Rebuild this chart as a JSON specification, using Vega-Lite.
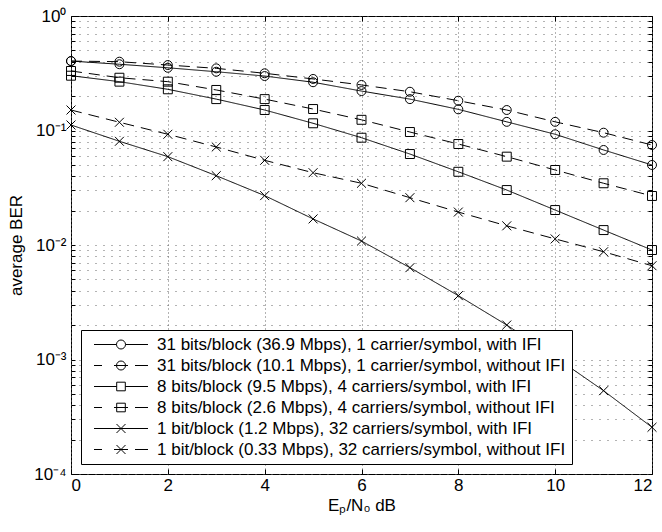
{
  "$schema": "https://vega.github.io/schema/vega-lite/v6.json",
  "width": 581,
  "height": 458,
  "autosize": {"type": "none"},
  "padding": {"left": 71, "top": 16, "right": 10, "bottom": 58},
  "background": "white",
  "config": {
    "font": "Liberation Sans",
    "view": {"stroke": "black", "strokeWidth": 1},
    "axis": {"domain": false, "labelColor": "black", "tickColor": "black", "titleColor": "black", "titleFontWeight": "normal", "labelFontSize": 17, "titleFontSize": 17}
  },
  "datasets": {
    "names": [
      {"id": "A", "series": "31 bits/block (36.9 Mbps), 1 carrier/symbol, with IFI"},
      {"id": "B", "series": "31 bits/block (10.1 Mbps), 1 carrier/symbol, without IFI"},
      {"id": "C", "series": "8 bits/block (9.5 Mbps), 4 carriers/symbol, with IFI"},
      {"id": "D", "series": "8 bits/block (2.6 Mbps), 4 carriers/symbol, without IFI"},
      {"id": "E", "series": "1 bit/block (1.2 Mbps), 32 carriers/symbol, with IFI"},
      {"id": "F", "series": "1 bit/block (0.33 Mbps), 32 carriers/symbol, without IFI"}
    ],
    "ber": [
      {"id": "A", "snr": 0, "ber": 0.404}, {"id": "A", "snr": 1, "ber": 0.379}, {"id": "A", "snr": 2, "ber": 0.353}, {"id": "A", "snr": 3, "ber": 0.326}, {"id": "A", "snr": 4, "ber": 0.299}, {"id": "A", "snr": 5, "ber": 0.264}, {"id": "A", "snr": 6, "ber": 0.221}, {"id": "A", "snr": 7, "ber": 0.188}, {"id": "A", "snr": 8, "ber": 0.153}, {"id": "A", "snr": 9, "ber": 0.119}, {"id": "A", "snr": 10, "ber": 0.0927}, {"id": "A", "snr": 11, "ber": 0.0676}, {"id": "A", "snr": 12, "ber": 0.050},
      {"id": "B", "snr": 0, "ber": 0.404}, {"id": "B", "snr": 1, "ber": 0.399}, {"id": "B", "snr": 2, "ber": 0.373}, {"id": "B", "snr": 3, "ber": 0.349}, {"id": "B", "snr": 4, "ber": 0.316}, {"id": "B", "snr": 5, "ber": 0.282}, {"id": "B", "snr": 6, "ber": 0.250}, {"id": "B", "snr": 7, "ber": 0.218}, {"id": "B", "snr": 8, "ber": 0.182}, {"id": "B", "snr": 9, "ber": 0.151}, {"id": "B", "snr": 10, "ber": 0.119}, {"id": "B", "snr": 11, "ber": 0.0957}, {"id": "B", "snr": 12, "ber": 0.0747},
      {"id": "C", "snr": 0, "ber": 0.301}, {"id": "C", "snr": 1, "ber": 0.267}, {"id": "C", "snr": 2, "ber": 0.229}, {"id": "C", "snr": 3, "ber": 0.188}, {"id": "C", "snr": 4, "ber": 0.151}, {"id": "C", "snr": 5, "ber": 0.1156}, {"id": "C", "snr": 6, "ber": 0.0865}, {"id": "C", "snr": 7, "ber": 0.0623}, {"id": "C", "snr": 8, "ber": 0.0436}, {"id": "C", "snr": 9, "ber": 0.0302}, {"id": "C", "snr": 10, "ber": 0.0202}, {"id": "C", "snr": 11, "ber": 0.0135}, {"id": "C", "snr": 12, "ber": 0.00904},
      {"id": "D", "snr": 0, "ber": 0.331}, {"id": "D", "snr": 1, "ber": 0.289}, {"id": "D", "snr": 2, "ber": 0.267}, {"id": "D", "snr": 3, "ber": 0.226}, {"id": "D", "snr": 4, "ber": 0.188}, {"id": "D", "snr": 5, "ber": 0.154}, {"id": "D", "snr": 6, "ber": 0.124}, {"id": "D", "snr": 7, "ber": 0.097}, {"id": "D", "snr": 8, "ber": 0.0762}, {"id": "D", "snr": 9, "ber": 0.0591}, {"id": "D", "snr": 10, "ber": 0.0452}, {"id": "D", "snr": 11, "ber": 0.0346}, {"id": "D", "snr": 12, "ber": 0.0268},
      {"id": "E", "snr": 0, "ber": 0.1117}, {"id": "E", "snr": 1, "ber": 0.0805}, {"id": "E", "snr": 2, "ber": 0.0591}, {"id": "E", "snr": 3, "ber": 0.0403}, {"id": "E", "snr": 4, "ber": 0.0270}, {"id": "E", "snr": 5, "ber": 0.0169}, {"id": "E", "snr": 6, "ber": 0.01083}, {"id": "E", "snr": 7, "ber": 0.00634}, {"id": "E", "snr": 8, "ber": 0.00361}, {"id": "E", "snr": 9, "ber": 0.0020}, {"id": "E", "snr": 10, "ber": 0.00105}, {"id": "E", "snr": 11, "ber": 0.000534}, {"id": "E", "snr": 12, "ber": 0.000256},
      {"id": "F", "snr": 0, "ber": 0.151}, {"id": "F", "snr": 1, "ber": 0.118}, {"id": "F", "snr": 2, "ber": 0.0927}, {"id": "F", "snr": 3, "ber": 0.0718}, {"id": "F", "snr": 4, "ber": 0.0549}, {"id": "F", "snr": 5, "ber": 0.0428}, {"id": "F", "snr": 6, "ber": 0.0346}, {"id": "F", "snr": 7, "ber": 0.0259}, {"id": "F", "snr": 8, "ber": 0.0194}, {"id": "F", "snr": 9, "ber": 0.0147}, {"id": "F", "snr": 10, "ber": 0.0113}, {"id": "F", "snr": 11, "ber": 0.00873}, {"id": "F", "snr": 12, "ber": 0.00659}
    ]
  },
  "data": {"name": "ber"},
  "transform": [
    {"lookup": "id", "from": {"data": {"name": "names"}, "key": "id", "fields": ["series"]}}
  ],
  "resolve": {"scale": {"shape": "independent"}, "legend": {"shape": "independent"}},
  "layer": [
    {
      "mark": {"type": "line", "color": "black", "strokeWidth": 1},
      "encoding": {
        "x": {"field": "snr", "type": "quantitative", "scale": {"domain": [0, 12], "nice": false, "zero": false},
          "axis": {"orient": "bottom", "values": [0, 2, 4, 6, 8, 10, 12], "title": "Eₚ/N₀ dB", "grid": true, "gridDash": [1, 3], "gridColor": "#666", "gridOpacity": 1, "tickSize": -5, "labelPadding": 8, "titlePadding": 4}},
        "y": {"field": "ber", "type": "quantitative", "scale": {"type": "log", "domain": [0.0001, 1], "nice": false},
          "axis": {"orient": "left", "title": "average BER", "grid": true, "gridDash": [1, 7], "gridColor": "#666", "gridOpacity": 1, "tickSize": -4, "labelPadding": 9, "titlePadding": 8, "labelOverlap": false,
            "values": [0.0001, 0.0002, 0.0003, 0.0004, 0.0005, 0.0006, 0.0007, 0.0008, 0.0009, 0.001, 0.002, 0.003, 0.004, 0.005, 0.006, 0.007, 0.008, 0.009, 0.01, 0.02, 0.03, 0.04, 0.05, 0.06, 0.07, 0.08, 0.09, 0.1, 0.2, 0.3, 0.4, 0.5, 0.6, 0.7, 0.8, 0.9, 1],
            "labelExpr": "datum.value == 1 ? '10⁰' : datum.value == 0.1 ? '10⁻¹' : datum.value == 0.01 ? '10⁻²' : datum.value == 0.001 ? '10⁻³' : datum.value == 0.0001 ? '10⁻⁴' : ''"}},
        "strokeDash": {"field": "series", "type": "nominal", "legend": null,
          "scale": {"domain": [
            "31 bits/block (36.9 Mbps), 1 carrier/symbol, with IFI",
            "31 bits/block (10.1 Mbps), 1 carrier/symbol, without IFI",
            "8 bits/block (9.5 Mbps), 4 carriers/symbol, with IFI",
            "8 bits/block (2.6 Mbps), 4 carriers/symbol, without IFI",
            "1 bit/block (1.2 Mbps), 32 carriers/symbol, with IFI",
            "1 bit/block (0.33 Mbps), 32 carriers/symbol, without IFI"],
            "range": [[1, 0], [11, 7], [1, 0], [11, 7], [1, 0], [11, 7]]}
        }
      }
    },
    {
      "mark": {"type": "point", "filled": false, "stroke": "black", "strokeWidth": 1, "opacity": 1, "size": 80},
      "encoding": {
        "x": {"field": "snr", "type": "quantitative",
          "axis": {"orient": "top", "values": [0, 2, 4, 6, 8, 10, 12], "labels": false, "title": null, "grid": false, "tickSize": -5}},
        "y": {"field": "ber", "type": "quantitative",
          "axis": {"orient": "right", "labels": false, "title": null, "grid": false, "tickSize": -4,
            "values": [0.0001, 0.0002, 0.0003, 0.0004, 0.0005, 0.0006, 0.0007, 0.0008, 0.0009, 0.001, 0.002, 0.003, 0.004, 0.005, 0.006, 0.007, 0.008, 0.009, 0.01, 0.02, 0.03, 0.04, 0.05, 0.06, 0.07, 0.08, 0.09, 0.1, 0.2, 0.3, 0.4, 0.5, 0.6, 0.7, 0.8, 0.9, 1]}},
        "shape": {"field": "series", "type": "nominal", "legend": null,
          "scale": {"domain": [
            "31 bits/block (36.9 Mbps), 1 carrier/symbol, with IFI",
            "31 bits/block (10.1 Mbps), 1 carrier/symbol, without IFI",
            "8 bits/block (9.5 Mbps), 4 carriers/symbol, with IFI",
            "8 bits/block (2.6 Mbps), 4 carriers/symbol, without IFI",
            "1 bit/block (1.2 Mbps), 32 carriers/symbol, with IFI",
            "1 bit/block (0.33 Mbps), 32 carriers/symbol, without IFI"],
            "range": ["circle", "circle", "square", "square", "M-1,-1L1,1M-1,1L1,-1", "M-1,-1L1,1M-1,1L1,-1"]}
        }
      }
    },
    {
      "transform": [{"filter": "false"}],
      "mark": {"type": "point", "filled": false, "stroke": "black", "strokeWidth": 1, "opacity": 1},
      "encoding": {
        "x": {"field": "snr", "type": "quantitative", "axis": null},
        "y": {"field": "ber", "type": "quantitative", "axis": null},
        "shape": {"field": "series", "type": "nominal",
          "scale": {"domain": [
            "31 bits/block (36.9 Mbps), 1 carrier/symbol, with IFI",
            "31 bits/block (10.1 Mbps), 1 carrier/symbol, without IFI",
            "8 bits/block (9.5 Mbps), 4 carriers/symbol, with IFI",
            "8 bits/block (2.6 Mbps), 4 carriers/symbol, without IFI",
            "1 bit/block (1.2 Mbps), 32 carriers/symbol, with IFI",
            "1 bit/block (0.33 Mbps), 32 carriers/symbol, without IFI"],
            "range": [
              "M-0.3,0L4.2,0M6,0L10.5,0M6,0A0.9,0.9 0 1,1 4.2,0A0.9,0.9 0 1,1 6,0",
              "M-0.3,0L1.3,0M3.7,0L6.5,0M7.9,0L10.5,0M6,0A0.9,0.9 0 1,1 4.2,0A0.9,0.9 0 1,1 6,0",
              "M-0.3,0L4.24,0M5.96,0L10.5,0M4.24,-0.86L5.96,-0.86L5.96,0.86L4.24,0.86Z",
              "M-0.3,0L1.3,0M3.7,0L6.5,0M7.9,0L10.5,0M4.24,-0.86L5.96,-0.86L5.96,0.86L4.24,0.86Z",
              "M-0.3,0L10.5,0M4.2,-0.9L6,0.9M4.2,0.9L6,-0.9",
              "M-0.3,0L1.3,0M3.7,0L6.5,0M7.9,0L10.5,0M4.2,-0.9L6,0.9M4.2,0.9L6,-0.9"]},
          "legend": {
            "orient": "bottom-left", "offset": 10, "title": null,
            "fillColor": "white", "strokeColor": "black", "padding": 6,
            "labelFontSize": 17, "labelColor": "black", "labelLimit": 600,
            "symbolSize": 100, "symbolStrokeColor": "black", "symbolStrokeWidth": 1, "symbolFillColor": "transparent",
            "labelOffset": 53, "rowPadding": 3
          }
        }
      }
    }
  ]
}
